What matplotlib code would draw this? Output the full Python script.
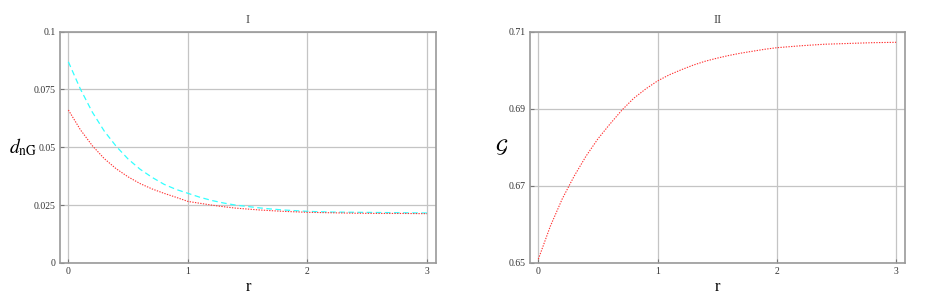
import matplotlib
matplotlib.use("Agg")
import matplotlib.pyplot as plt

# ---- data ----
r_vals = [0.0, 0.1, 0.2, 0.3, 0.4, 0.5, 0.6, 0.7, 0.8, 0.9, 1.0,
          1.1, 1.2, 1.3, 1.4, 1.5, 1.6, 1.7, 1.8, 1.9, 2.0,
          2.2, 2.4, 2.6, 2.8, 3.0]

d_red = [0.0661, 0.0576, 0.0507, 0.0451, 0.0407, 0.0372, 0.0343, 0.0320, 0.0301, 0.0284, 0.0266,
         0.0258, 0.0250, 0.0243, 0.0237, 0.0233, 0.0229, 0.0226, 0.0223, 0.0221, 0.0219,
         0.0217, 0.0215, 0.0214, 0.0214, 0.0213]

d_cyan = [0.0869, 0.0752, 0.0652, 0.0570, 0.0504, 0.0449, 0.0405, 0.0370, 0.0340, 0.0318, 0.0301,
          0.0284, 0.0270, 0.0259, 0.0250, 0.0244, 0.0238, 0.0233, 0.0229, 0.0226, 0.0223,
          0.0220, 0.0219, 0.0218, 0.0217, 0.0216]

G_red = [0.6510, 0.6595, 0.6666, 0.6725, 0.6777, 0.6822, 0.6860, 0.6896, 0.6927, 0.6951, 0.6972,
         0.6988, 0.7001, 0.7013, 0.7023, 0.7031, 0.7038, 0.7044, 0.7049, 0.7054, 0.7058,
         0.7063, 0.7067, 0.7069, 0.7071, 0.7072]

x_ticks = [0, 1, 2, 3]
x_ticklabels = ["0", "1", "2", "3"]
left_yticks = [0, 0.025, 0.05, 0.075, 0.1]
left_yticklabels = ["0", "0.025", "0.05", "0.075", "0.1"]
right_yticks = [0.65, 0.67, 0.69, 0.71]
right_yticklabels = ["0.65", "0.67", "0.69", "0.71"]

titles = ["I", "II"]

plt.rcParams['font.family'] = ['Liberation Serif', 'DejaVu Serif']
plt.rcParams['mathtext.fontset'] = 'stix'

fig = plt.figure(figsize=(9.26, 3.04), dpi=100)
ax1 = fig.add_axes([60/926, 41/304, 376/926, 231.5/304])
ax2 = fig.add_axes([530/926, 41/304, 375/926, 231.5/304])

frame_col = '#999999'
grid_col = '#c4c4c4'
text_col = '#333333'

def style(ax, yt, ytl, ylim, title):
    ax.set_xlim(-0.07, 3.075)
    ax.set_ylim(*ylim)
    ax.set_xticks(x_ticks)
    ax.set_xticklabels(x_ticklabels)
    ax.set_yticks(yt)
    ax.set_yticklabels(ytl)
    ax.grid(True, color=grid_col, linewidth=0.9)
    ax.set_axisbelow(True)
    for s in ax.spines.values():
        s.set_color(frame_col)
        s.set_linewidth(1.2)
    ax.tick_params(direction='in', length=3, width=0.8, color='#777777',
                   labelsize=7, labelcolor=text_col, pad=3)
    ax.set_title(title, fontsize=9, color='#444444', pad=6)
    ax.set_xlabel("r", fontsize=12, labelpad=2)

ax1.plot(r_vals, d_cyan, color='#33ffff', linewidth=0.9, linestyle=(0, (4.5, 2.8)))
ax1.plot(r_vals, d_red, color='#ff3333', linewidth=0.8, linestyle=(0, (1.2, 1.2)))
style(ax1, left_yticks, left_yticklabels, (0, 0.1), titles[0])
ax1.set_ylabel(r"$d_{\mathrm{nG}}$", fontsize=14, rotation=0, labelpad=8, va='center')

ax2.plot(r_vals, G_red, color='#ff3333', linewidth=0.8, linestyle=(0, (1.2, 1.2)))
style(ax2, right_yticks, right_yticklabels, (0.65, 0.71), titles[1])
ax2.set_ylabel(r"$\mathcal{G}$", fontsize=14, rotation=0, labelpad=5, va='center')

fig.savefig("out.png", dpi=100)
